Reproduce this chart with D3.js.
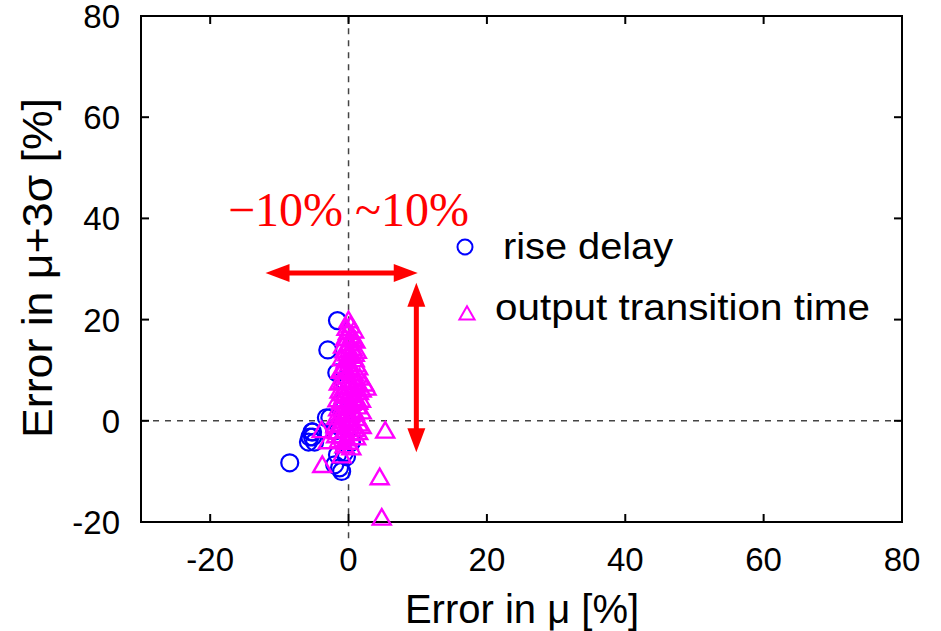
<!DOCTYPE html>
<html>
<head>
<meta charset="utf-8">
<script src="https://cdn.jsdelivr.net/npm/d3@7"></script>
<style>
  body { margin: 0; background: #fff; }
  text { font-family: "Liberation Sans", Arial, sans-serif; }
</style>
</head>
<body>
<svg id="chart_svg" width="941" height="631"></svg>
<script>
// tick labels
var xTicks = [-20, 0, 20, 40, 60, 80];
var yTicks = [-20, 0, 20, 40, 60, 80];

// rise delay: [error in mu, error in mu+3sigma]
var riseDelay = [
    [-1.6, 19.8], [-3.0, 14.0], [-1.7, 9.5], [-0.8, 8.0], [-0.5, 5.0], [-1.0, 2.0],
    [-3.2, 0.6], [-2.7, 0.6], [-1.5, -1.0], [0.0, -1.0], [-2.0, -2.0],
    [-5.2, -2.2], [-5.3, -2.2], [-5.6, -3.2], [-5.2, -3.2], [-4.9, -4.2], [-5.8, -4.2],
    [0.4, -4.2], [0.4, -4.2], [-0.6, -6.3], [-1.6, -6.7], [-0.3, -7.1],
    [-2.0, -8.7], [-8.5, -8.3], [-1.3, -9.3], [-1.0, -10.0]
];

// output transition time
var transTime = [
    [0, 19.5], [0.3, 18.5], [-0.3, 18], [0.8, 17.5], [0.5, 16.5], [-0.5, 16], [1, 15.5],
    [0.2, 15], [-0.8, 14.5], [0.6, 14], [1.2, 13.5], [-0.2, 13], [0.4, 12.5], [-1, 12],
    [0.9, 11.8], [0.1, 11], [-0.6, 10.5], [1.4, 10.2], [0.3, 9.8], [-1.2, 9.5], [0.8, 9],
    [-0.3, 8.6], [1.6, 8.2], [0.2, 7.8], [-0.9, 7.5], [2.3, 7], [1.1, 6.8], [-0.4, 6.4],
    [0.6, 6], [2.6, 6.2], [-1.3, 5.6], [1.5, 5.3], [0.1, 5], [-0.7, 4.6], [0.9, 4.2],
    [1.8, 3.8], [-1.1, 3.5], [0.4, 3.2], [-0.2, 2.8], [1.3, 2.5], [-1.5, 2.1], [0.7, 1.8],
    [1.9, 1.5], [-0.5, 1.2], [0.2, 0.8], [-1.8, 0.4], [1.2, 0.2], [-0.8, -0.3], [0.5, -0.6],
    [1.9, -1.4], [-1.3, -1], [-0.2, -1.5], [0.9, -2], [-1.7, -2.4], [0.3, -2.8], [-0.9, -3.3],
    [1.1, -3.6], [-1.4, -4.2], [0, -4.5], [-0.6, -5.2], [0.4, -5.6], [-1, -7.2],
    [-0.1, 17.2], [0.6, 15.8], [-0.6, 13.6], [0.9, 12.9], [-0.4, 11.6], [1.1, 10.8],
    [-0.9, 9.9], [0.5, 9.2], [1.2, 7.4], [-1.4, 7.2], [0.3, 6.6], [1.9, 5.8], [-0.9, 5.1],
    [0.7, 4.8], [-1.6, 3.9], [1.4, 3.4], [-0.6, 2.3], [0.9, 1.2], [-1.2, 0.9], [0.1, -0.1],
    [1.5, -0.9], [-1.9, -1.2], [-0.6, -2.2], [1.4, -2.6], [-1.8, -3.2], [-0.3, -3.8],
    [-3, -4.4], [-3.9, -2.2], [-3.8, -9.1], [5.3, -2.3], [4.5, -11.5], [4.8, -19.5]
];

// red range arrows: [x1, y1, x2, y2]
var arrows = [
    [-12, 29.2, 10, 29.2],
    [9.8, 27.3, 9.8, -6.2]
];

var svg = d3.select("#chart_svg");
var plotLeft = 141, plotRight = 902, plotTop = 16, plotBottom = 522;

var x = d3.scaleLinear().domain([-30, 80]).range([plotLeft, plotRight]);
var y = d3.scaleLinear().domain([-20, 80]).range([plotBottom, plotTop]);

// zero lines
svg.append("line")
    .attr("x1", x(0)).attr("x2", x(0))
    .attr("y1", y(-23.2)).attr("y2", y(80))
    .attr("stroke", "#444").attr("stroke-width", 1.5)
    .attr("stroke-dasharray", "6,6");
svg.append("line")
    .attr("x1", x(-30)).attr("x2", x(80))
    .attr("y1", y(0)).attr("y2", y(0))
    .attr("stroke", "#444").attr("stroke-width", 1.5)
    .attr("stroke-dasharray", "6,6");

// frame
svg.append("rect")
    .attr("x", plotLeft).attr("y", plotTop)
    .attr("width", plotRight - plotLeft).attr("height", plotBottom - plotTop)
    .attr("fill", "none").attr("stroke", "#000").attr("stroke-width", 2);

// ticks on all four sides (mirrored)
var tickLen = 8;
xTicks.forEach(function (t) {
    if (t == 80) return;
    svg.append("line").attr("x1", x(t)).attr("x2", x(t))
        .attr("y1", plotBottom).attr("y2", plotBottom - tickLen)
        .attr("stroke", "#000").attr("stroke-width", 2);
    svg.append("line").attr("x1", x(t)).attr("x2", x(t))
        .attr("y1", plotTop).attr("y2", plotTop + tickLen)
        .attr("stroke", "#000").attr("stroke-width", 2);
});
yTicks.forEach(function (t) {
    if (t == 80 || t == -20) return;
    svg.append("line").attr("x1", plotLeft).attr("x2", plotLeft + tickLen)
        .attr("y1", y(t)).attr("y2", y(t))
        .attr("stroke", "#000").attr("stroke-width", 2);
    svg.append("line").attr("x1", plotRight).attr("x2", plotRight - tickLen)
        .attr("y1", y(t)).attr("y2", y(t))
        .attr("stroke", "#000").attr("stroke-width", 2);
});

// tick labels
svg.selectAll(".xlab")
    .data(xTicks)
    .enter()
    .append("text")
    .attr("x", d => x(d))
    .attr("y", 571)
    .attr("text-anchor", "middle")
    .style("font-size", "33px")
    .text(d => d);
svg.selectAll(".ylab")
    .data(yTicks)
    .enter()
    .append("text")
    .attr("x", 120)
    .attr("y", d => y(d) + 12)
    .attr("text-anchor", "end")
    .style("font-size", "33px")
    .text(d => d);

// axis titles
svg.append("text")
    .attr("x", 522).attr("y", 623)
    .attr("text-anchor", "middle")
    .style("font-size", "40px")
    .text("Error in \u03bc [%]");
svg.append("text")
    .attr("transform", "translate(52,268) rotate(-90)")
    .attr("text-anchor", "middle")
    .attr("textLength", 340).attr("lengthAdjust", "spacingAndGlyphs")
    .style("font-size", "42px")
    .text("Error in \u03bc+3\u03c3 [%]");

// rise delay circles
svg.append("g")
    .selectAll("circle")
    .data(riseDelay)
    .enter()
    .append("circle")
    .attr("cx", d => x(d[0]))
    .attr("cy", d => y(d[1]))
    .attr("r", 8.5)
    .attr("fill", "none")
    .attr("stroke", "#0000ff")
    .attr("stroke-width", 2.2);

// output transition time triangles
var tri = d3.symbol().type(d3.symbolTriangle).size(140);
svg.append("g")
    .selectAll("path")
    .data(transTime)
    .enter()
    .append("path")
    .attr("d", tri)
    .attr("transform", d => "translate(" + x(d[0]) + "," + y(d[1]) + ")")
    .attr("fill", "none")
    .attr("stroke", "#ff00ff")
    .attr("stroke-width", 2.4);

// red arrows
var headLen = 24, headHalf = 9;
arrows.forEach(function (a) {
    var x1 = x(a[0]), y1 = y(a[1]), x2 = x(a[2]), y2 = y(a[3]);
    var dx = x2 - x1, dy = y2 - y1, len = Math.sqrt(dx * dx + dy * dy);
    var ux = dx / len, uy = dy / len, px = -uy, py = ux;
    svg.append("line")
        .attr("x1", x1 + ux * headLen * 0.8).attr("y1", y1 + uy * headLen * 0.8)
        .attr("x2", x2 - ux * headLen * 0.8).attr("y2", y2 - uy * headLen * 0.8)
        .attr("stroke", "#ff0000").attr("stroke-width", 5);
    [[x1, y1, 1], [x2, y2, -1]].forEach(function (p) {
        var bx = p[0] + ux * headLen * p[2], by = p[1] + uy * headLen * p[2];
        svg.append("polygon")
            .attr("points", [
                [p[0], p[1]],
                [bx + px * headHalf, by + py * headHalf],
                [bx - px * headHalf, by - py * headHalf]
            ].map(q => q.join(",")).join(" "))
            .attr("fill", "#ff0000");
    });
});

svg.append("text")
    .attr("x", 228).attr("y", 226)
    .style("font-family", "'Liberation Serif', 'Times New Roman', serif")
    .style("font-size", "48px")
    .attr("fill", "#ff0000")
    .text("\u221210% ~10%");

// legend
var legendTri = d3.symbol().type(d3.symbolTriangle).size(100);
svg.append("circle")
    .attr("cx", 465).attr("cy", 247).attr("r", 7.5)
    .attr("fill", "none").attr("stroke", "#0000ff").attr("stroke-width", 2);
svg.append("text")
    .attr("x", 503).attr("y", 259)
    .attr("textLength", 170).attr("lengthAdjust", "spacingAndGlyphs")
    .style("font-size", "36px")
    .text("rise delay");
svg.append("path")
    .attr("d", legendTri)
    .attr("transform", "translate(467,315)")
    .attr("fill", "none").attr("stroke", "#ff00ff").attr("stroke-width", 2);
svg.append("text")
    .attr("x", 495).attr("y", 320)
    .attr("textLength", 375).attr("lengthAdjust", "spacingAndGlyphs")
    .style("font-size", "36px")
    .text("output transition time");
</script>
</body>
</html>
